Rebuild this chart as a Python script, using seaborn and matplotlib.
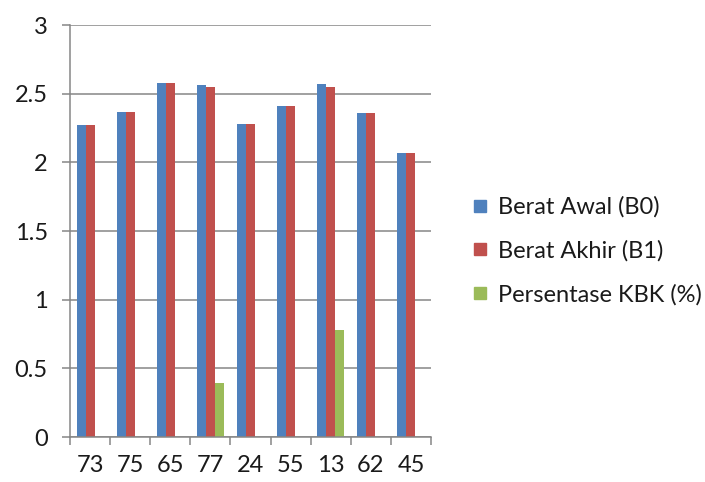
import matplotlib
matplotlib.use("Agg")
import matplotlib.pyplot as plt
from matplotlib.lines import Line2D
import seaborn as sns
import pandas as pd
import numpy as np

# Sample codes and measured weights
categories = ["73", "75", "65", "77", "24", "55", "13", "62", "45"]
berat_awal = [2.27, 2.37, 2.58, 2.56, 2.28, 2.41, 2.57, 2.36, 2.07]
berat_akhir = [2.27, 2.37, 2.58, 2.55, 2.28, 2.41, 2.55, 2.36, 2.07]
persentase_kbk = [0, 0, 0, 0.39, 0, 0, 0.78, 0, 0]

series_names = ["Berat Awal (B0)", "Berat Akhir (B1)", "Persentase KBK (%)"]
series_colors = ["#4F81BD", "#C0504D", "#9BBB59"]

df = pd.DataFrame({
    "kode": categories * 3,
    "nilai": berat_awal + berat_akhir + persentase_kbk,
    "seri": [series_names[0]] * 9 + [series_names[1]] * 9 + [series_names[2]] * 9,
})

sns.set_theme(style="white")
plt.rcParams["font.family"] = ["Lato", "DejaVu Sans"]

fig = plt.figure(figsize=(7.05, 4.82), dpi=100)
ax = fig.add_axes([70 / 705, (482 - 437) / 482, 361 / 705, (437 - 25) / 482])

sns.barplot(data=df, x="kode", y="nilai", hue="seri", order=categories,
            hue_order=series_names, palette=series_colors, width=0.675,
            saturation=1, gap=0, linewidth=0, ax=ax, legend=False)

ax.set_ylim(0, 3)
ax.set_xlim(-0.5, len(categories) - 0.5)
ax.set_yticks(np.arange(0, 3.01, 0.5))
ax.set_yticklabels(["0", "0.5", "1", "1.5", "2", "2.5", "3"])
ax.set_xlabel("")
ax.set_ylabel("")

grid_color = "#868686"
text_color = "#1a1a1a"
ax.yaxis.grid(True, color=grid_color, linewidth=1.1)
ax.set_axisbelow(True)
for side in ["top", "right"]:
    ax.spines[side].set_visible(False)
for side in ["left", "bottom"]:
    ax.spines[side].set_color(grid_color)
    ax.spines[side].set_linewidth(1.1)

ax.tick_params(axis="y", direction="out", length=6, width=1.1, color=grid_color,
               labelsize=17, labelcolor=text_color, pad=10, left=True)
ax.tick_params(axis="x", which="major", length=0, labelsize=17,
               labelcolor=text_color, pad=13)
ax.set_xticks(np.arange(-0.5, len(categories), 1.0), minor=True)
ax.tick_params(axis="x", which="minor", direction="out", length=6, width=1.1,
               color=grid_color, bottom=True)

handles = [Line2D([0], [0], marker="s", linestyle="none", markersize=9,
                  markerfacecolor=c, markeredgecolor=c) for c in series_colors]
fig.legend(handles, series_names, loc="center left",
           bbox_to_anchor=(452 / 705, 1 - 251 / 482), frameon=False,
           fontsize=17, labelspacing=0.95, handlelength=0.6, handletextpad=0.45,
           labelcolor=text_color)

fig.savefig("out.png", dpi=100)
